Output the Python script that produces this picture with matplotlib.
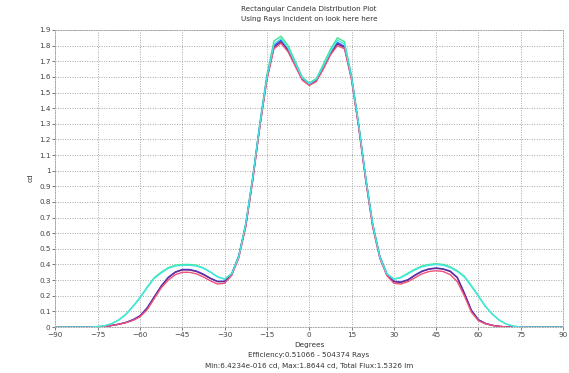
import numpy as np
import matplotlib
matplotlib.use("Agg")
import matplotlib.pyplot as plt
from matplotlib.ticker import MultipleLocator, FormatStrFormatter

# sampling angles (degrees), every 2.5 deg from -90 to 90
angles = np.arange(-90, 90.01, 2.5)

red = [0, 0, 0, 0, 0, 0, 0, 0.003, 0.01, 0.018, 0.028, 0.042, 0.065, 0.11, 0.18, 0.25,
       0.30, 0.335, 0.35, 0.35, 0.34, 0.32, 0.295, 0.275, 0.28, 0.33, 0.44, 0.64, 0.94,
       1.28, 1.58, 1.78, 1.815, 1.76, 1.67, 1.58, 1.545,
       1.57, 1.65, 1.74, 1.80, 1.78, 1.58, 1.28, 0.94, 0.64, 0.44, 0.33, 0.28,
       0.275, 0.29, 0.315, 0.34, 0.355, 0.36, 0.355, 0.335, 0.29, 0.20, 0.095, 0.04,
       0.02, 0.01, 0.004, 0, 0, 0, 0, 0, 0, 0, 0, 0]

purple = [0, 0, 0, 0, 0, 0, 0, 0.003, 0.01, 0.018, 0.028, 0.045, 0.07, 0.12, 0.19, 0.26,
          0.315, 0.35, 0.365, 0.365, 0.355, 0.335, 0.31, 0.29, 0.29, 0.335, 0.45, 0.65, 0.95,
          1.29, 1.59, 1.79, 1.825, 1.77, 1.68, 1.585, 1.55,
          1.575, 1.655, 1.745, 1.81, 1.79, 1.59, 1.29, 0.95, 0.65, 0.45, 0.335, 0.29,
          0.285, 0.30, 0.33, 0.355, 0.37, 0.375, 0.37, 0.355, 0.315, 0.215, 0.105, 0.045,
          0.022, 0.01, 0.004, 0, 0, 0, 0, 0, 0, 0, 0, 0]

blue = [0, 0, 0, 0, 0, 0, 0, 0.003, 0.01, 0.018, 0.03, 0.047, 0.072, 0.122, 0.192, 0.262,
        0.318, 0.352, 0.368, 0.368, 0.358, 0.338, 0.312, 0.292, 0.293, 0.338, 0.452, 0.652, 0.952,
        1.292, 1.595, 1.80, 1.835, 1.775, 1.685, 1.59, 1.553,
        1.58, 1.66, 1.75, 1.82, 1.795, 1.595, 1.292, 0.952, 0.652, 0.452, 0.338, 0.293,
        0.288, 0.303, 0.333, 0.358, 0.372, 0.378, 0.372, 0.358, 0.318, 0.218, 0.108, 0.047,
        0.023, 0.011, 0.004, 0, 0, 0, 0, 0, 0, 0, 0, 0]

cyan = [0, 0, 0, 0, 0, 0, 0.003, 0.008, 0.022, 0.045, 0.08, 0.13, 0.185, 0.25, 0.31, 0.345,
        0.375, 0.39, 0.395, 0.395, 0.39, 0.375, 0.35, 0.32, 0.305, 0.34, 0.45, 0.66, 0.96,
        1.30, 1.60, 1.81, 1.845, 1.785, 1.69, 1.595, 1.555,
        1.585, 1.67, 1.76, 1.835, 1.81, 1.60, 1.30, 0.96, 0.66, 0.45, 0.34, 0.305,
        0.315, 0.34, 0.365, 0.385, 0.395, 0.40, 0.395, 0.38, 0.355, 0.32, 0.26, 0.195,
        0.13, 0.08, 0.042, 0.018, 0.005, 0, 0, 0, 0, 0, 0, 0]

green = [0, 0, 0, 0, 0, 0, 0.003, 0.008, 0.022, 0.046, 0.082, 0.133, 0.19, 0.255, 0.315, 0.35,
         0.38, 0.395, 0.40, 0.40, 0.395, 0.378, 0.352, 0.322, 0.307, 0.343, 0.455, 0.665, 0.965,
         1.31, 1.615, 1.83, 1.86, 1.80, 1.70, 1.60, 1.56,
         1.59, 1.68, 1.775, 1.85, 1.825, 1.61, 1.305, 0.965, 0.665, 0.455, 0.343, 0.307,
         0.318, 0.345, 0.37, 0.39, 0.40, 0.405, 0.40, 0.385, 0.36, 0.325, 0.265, 0.20,
         0.133, 0.082, 0.043, 0.018, 0.005, 0, 0, 0, 0, 0, 0, 0]

series = [
    (green, "#3ee68c"),
    (blue, "#3b4cff"),
    (purple, "#6a2a8a"),
    (red, "#f0507a"),
    (cyan, "#45e6e6"),
]

x_ticks = np.arange(-90, 91, 15)

title_lines = ["Rectangular Candela Distribution Plot", "Using Rays Incident on look here here"]
x_label = "Degrees"
info_lines = ["Efficiency:0.51066 - 504374 Rays",
              "Min:6.4234e-016 cd, Max:1.8644 cd, Total Flux:1.5326 lm"]


def plot_candela():
    fig = plt.figure(figsize=(5.69, 3.73), dpi=100)
    ax = fig.add_axes([0.0974, 0.1233, 0.8921, 0.7963])

    for values, color in series:
        ax.plot(angles, values, color=color, lw=1.0)

    ax.set_xlim(-90, 90)
    ax.set_ylim(0, 1.9)
    ax.set_xticks(x_ticks)
    ax.yaxis.set_major_locator(MultipleLocator(0.1))
    ax.yaxis.set_major_formatter(FormatStrFormatter('%g'))
    ax.tick_params(labelsize=5.2, colors='#444444', length=2, width=0.5, pad=1.5)
    ax.grid(True, linestyle=(0, (1, 1.5)), color='#a8a8a8', lw=0.7)
    for sp in ax.spines.values():
        sp.set_linestyle(':')
        sp.set_color('#a8a8a8')
        sp.set_linewidth(0.7)

    txt = dict(fontsize=5.2, color='#333333', ha='center')
    fig.text(309 / 569, 1 - 9 / 373, title_lines[0], va='center', **txt)
    fig.text(309 / 569, 1 - 19 / 373, title_lines[1], va='center', **txt)
    fig.text(309 / 569, 1 - 344.5 / 373, x_label, va='center', **txt)
    fig.text(309 / 569, 1 - 355 / 373, info_lines[0], va='center', **txt)
    fig.text(309 / 569, 1 - 366 / 373, info_lines[1], va='center', **txt)
    fig.text(31 / 569, 1 - 178 / 373, "cd", rotation=90, va='center', **txt)

    fig.savefig("out.png", dpi=100)


if __name__ == '__main__':
    plot_candela()
